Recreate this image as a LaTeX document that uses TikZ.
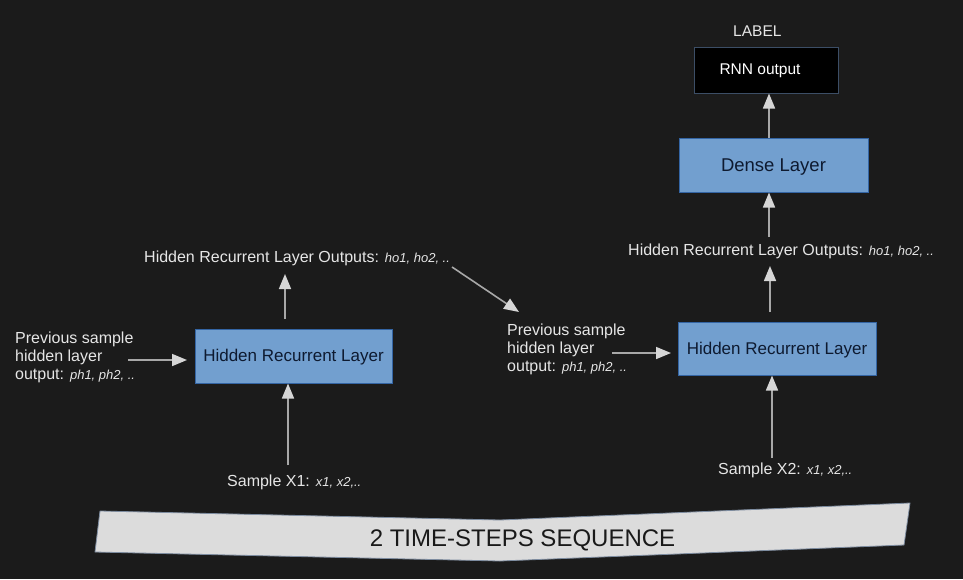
\documentclass[tikz,border=0pt]{standalone}
\usepackage{fontspec}
\setmainfont{Liberation Sans}
\usetikzlibrary{arrows.meta}
\definecolor{bg}{HTML}{1B1B1B}
\definecolor{txt}{HTML}{E6E6E6}
\definecolor{boxfill}{HTML}{729FCF}
\definecolor{boxline}{HTML}{3465A4}
\definecolor{boxtxt}{HTML}{0E1A30}
\definecolor{rnnline}{HTML}{3C4E66}
\definecolor{arrline}{HTML}{A8A8A8}
\definecolor{arrhead}{HTML}{D6D6D6}
\definecolor{banner}{HTML}{DCDCDC}
\definecolor{bannerline}{HTML}{7D8CA0}
\tikzset{
  lbl/.style={text=txt, inner sep=0pt, anchor=west, font=\fontsize{16}{18}\selectfont},
  lblml/.style={lbl, align=left},
  layerbox/.style={draw=boxline, line width=1pt, fill=boxfill, text=boxtxt, inner sep=0pt, text depth=0.5pt},
  arr/.style={draw=arrline, line width=1.6pt,
    -{Triangle[length=15pt,width=12pt,fill=arrhead,color=arrhead]}},
}
\newcommand{\smit}[1]{{\fontsize{13}{15}\selectfont\itshape #1}}
\begin{document}
\begin{tikzpicture}[x=1pt,y=-1pt]
\fill[bg] (0,0) rectangle (963,579);
\useasboundingbox (0,0) rectangle (963,579);

% boxes
\node[layerbox, minimum width=197pt, minimum height=54pt, font=\fontsize{17}{20}\selectfont] (hrl1) at (293.5,356) {Hidden Recurrent Layer};
\node[layerbox, minimum width=198pt, minimum height=53pt, font=\fontsize{17}{20}\selectfont] (hrl2) at (777,348.5) {Hidden Recurrent Layer};
\node[layerbox, minimum width=189pt, minimum height=54pt, font=\fontsize{18.5}{21}\selectfont] (dense) at (773.5,165) {Dense Layer};
\node[draw=rnnline, line width=1pt, fill=black, text=white, minimum width=144pt, minimum height=46pt, inner sep=0pt, text depth=1pt, font=\fontsize{15.5}{18}\selectfont] (rnn) at (766,70) {\hspace*{-12pt}RNN output};

% labels
\node[lbl, font=\fontsize{15.5}{18}\selectfont] (label) at (733,31) {LABEL};
\node[lbl] (out1) at (144,258) {Hidden Recurrent Layer Outputs: \smit{ho1, ho2, ..}};
\node[lbl] (out2) at (628,251) {Hidden Recurrent Layer Outputs: \smit{ho1, ho2, ..}};
\node[lblml] (prev1) at (15,357) {Previous sample\\hidden layer\\output: \smit{ph1, ph2, ..}};
\node[lblml] (prev2) at (507,349) {Previous sample\\hidden layer\\output: \smit{ph1, ph2, ..}};
\node[lbl] (x1) at (227,482) {Sample X1: \smit{x1, x2,..}};
\node[lbl] (x2) at (718,470) {Sample X2: \smit{x1, x2,..}};

% connector ends
\coordinate (p1s) at (128,360);
\coordinate (p1e) at (187,360);
\coordinate (p2s) at (612,353);
\coordinate (p2e) at (671,353);
\coordinate (dstart) at (452,267);
\coordinate (dend) at (519,312);
\coordinate (x1s) at (288,465);
\coordinate (x2s) at (772,458);
\coordinate (h1s) at (285,319);
\coordinate (h1e) at (285,274);
\coordinate (h2s) at (770,312);
\coordinate (h2e) at (770,266);
\coordinate (o2s) at (769,237);

% arrows
\draw[arr] (x1s) -- (x1s |- hrl1.south);
\draw[arr] (h1s) -- (h1e);
\draw[arr] (p1s) -- (p1e);
\draw[arr] (dstart) -- (dend);
\draw[arr] (p2s) -- (p2e);
\draw[arr] (x2s) -- (x2s |- hrl2.south);
\draw[arr] (h2s) -- (h2e);
\draw[arr] (o2s) -- (o2s |- dense.south);
\draw[arr] (o2s |- dense.north) -- (o2s |- rnn.south);

% banner
\draw[fill=banner, draw=bannerline, line width=0.8pt, line join=round]
  (100,511) -- (500,520) -- (910,503) -- (904,545) -- (500,561) -- (95,552) -- cycle;
\node[text=black!90, inner sep=0pt, text depth=0.5pt, font=\fontsize{24}{28}\selectfont] (seq) at (522.5,538) {2 TIME-STEPS SEQUENCE};
\end{tikzpicture}
\end{document}
